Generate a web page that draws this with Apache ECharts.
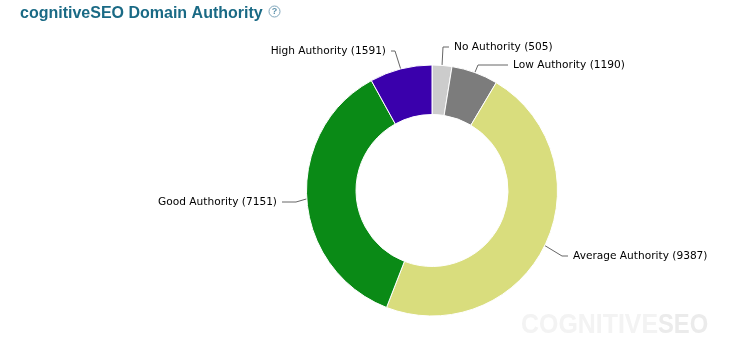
<!DOCTYPE html>
<html><head><meta charset="utf-8">
<style>html,body{margin:0;padding:0;background:#fff}#c{width:735px;height:364px}</style>
<script src="https://cdn.jsdelivr.net/npm/echarts@6/dist/echarts.min.js"></script>
</head><body><div id="c"></div>
<script>
const categories = ['No Authority','Low Authority','Average Authority','Good Authority','High Authority'];
const values = [505,1190,9387,7151,1591];
const colors = ['#cccccc','#7c7c7c','#d9dd7d','#0a8a16','#3a00ac'];
const labelAnchors = [
 {x:449,y:47,align:'left',len:20,len2:6},
 {x:508,y:65,align:'left',len:10,len2:30},
 {x:568,y:256,align:'left',len:20,len2:6},
 {x:282,y:202,align:'right',len:22,len2:14},
 {x:391,y:51,align:'right',len:20,len2:4}
];
const chart = echarts.init(document.getElementById('c'),null,{renderer:'canvas'});
chart.setOption({
 animation:false,
 backgroundColor:'#fff',
 title:{text:'cognitiveSEO Domain Authority',left:20,top:6,padding:0,textStyle:{fontFamily:'Liberation Sans',fontSize:16,fontWeight:'bold',color:'#1a6a85'}},
 graphic:[
  {type:'circle',shape:{cx:274.5,cy:11.5,r:5.5},style:{fill:'#fff',stroke:'#7fa6bb',lineWidth:1}},
  {type:'text',style:{x:274.5,y:12,text:'?',align:'center',verticalAlign:'middle',font:'bold 9px Liberation Sans',fill:'#5f93ad'}},
  {type:'text',x:521,y:325,scaleX:0.89,style:{text:'COGNITIVE',verticalAlign:'middle',font:'bold 28px "Liberation Sans"',fill:'#f3f3f3'}},
  {type:'text',x:658,y:325,scaleX:0.85,style:{text:'SEO',verticalAlign:'middle',font:'bold 28px "Liberation Sans"',fill:'#ebebeb'}}
 ],
 series:[{
  type:'pie',
  center:[432,190.5],
  radius:[76,125.5],
  startAngle:90,
  clockwise:true,
  itemStyle:{borderColor:'#fff',borderWidth:1},
  label:{show:true,formatter:p=>p.name+' ('+p.value+')',fontFamily:'DejaVu Sans',fontSize:10.6,color:'#000',padding:[0,5],backgroundColor:'#fff'},
  labelLine:{show:true,length:12,length2:5,smooth:false,minTurnAngle:0,maxSurfaceAngle:180,lineStyle:{color:'#666',width:1}},
  labelLayout:p=>{const a=labelAnchors[p.dataIndex];return {x:a.x,y:a.y,align:a.align,verticalAlign:'middle',moveOverlap:false};},
  emphasis:{disabled:true},
  data:categories.map((n,i)=>({name:n,value:values[i],itemStyle:{color:colors[i]},labelLine:{length:labelAnchors[i].len,length2:labelAnchors[i].len2,minTurnAngle:0,maxSurfaceAngle:180}}))
 }]
});
</script></body></html>
